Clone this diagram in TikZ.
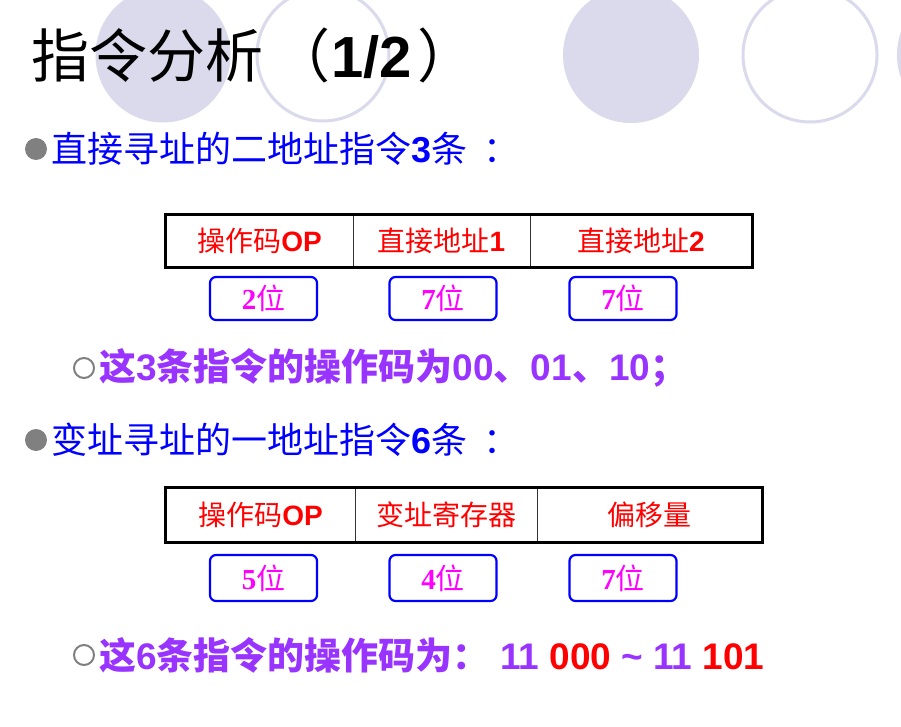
\documentclass[tikz,border=0pt]{standalone}
\usepackage{fontspec}
\setmainfont{Liberation Sans}
\newfontfamily\cjk{Noto Sans CJK SC}
\newfontfamily\tnr{Liberation Serif}
\definecolor{lav}{RGB}{218,218,236}
\definecolor{bulgray}{RGB}{128,128,128}
\definecolor{purp}{RGB}{153,51,255}
\definecolor{pblue}{RGB}{0,0,255}
\definecolor{pred}{RGB}{255,0,0}
\definecolor{pmag}{RGB}{255,0,255}
\tikzset{
  decofill/.style={fill=lav},
  decoring/.style={draw=lav, line width=3pt},
  cell/.style={draw=black!80, line width=1pt, inner sep=0pt, text=pred,
    font=\fontsize{28}{30}\selectfont},
  outerbox/.style={draw=black, line width=2.6pt},
  bitbox/.style={draw=pblue, line width=2.2pt, rounded corners=6pt,
    minimum width=107pt, inner sep=0pt, text=pmag,
    font=\fontsize{29}{31}\selectfont},
  textline/.style={anchor=west, inner sep=0pt, font=\fontsize{36}{40}\selectfont},
  subline/.style={anchor=west, inner sep=0pt, text=purp, font=\fontsize{37}{40}\selectfont\bfseries},
  dotfill/.style={circle, fill=bulgray, minimum size=22pt, inner sep=0pt},
  dotring/.style={circle, draw=bulgray, line width=2pt, minimum size=20pt, inner sep=0pt}
}
\begin{document}
\begin{tikzpicture}[x=1pt,y=-1pt]
\useasboundingbox (0,0) rectangle (901,727);
\fill[white] (0,0) rectangle (901,727);
\begin{scope}
\clip (0,0) rectangle (901,727);
\fill[decofill] (163,55) circle (67.5);
\draw[decoring] (323,55) circle (66);
\fill[decofill] (631,55) circle (68);
\draw[decoring] (810,55) circle (67);
\fill[decofill] (965,55) circle (68);
\end{scope}

% title
\node[anchor=west, inner sep=0pt, font=\fontsize{58}{62}\selectfont] (title) at (31,55)
  {{\cjk 指令分析}\hspace{9pt}{\cjk （}\hspace{1pt}{\bfseries 1/2}\hspace{6pt}{\cjk ）}};

% first bullet
\node[dotfill] (b1) at (36,149) {};
\node[textline, text=pblue] (t1) at (51,149)
  {{\cjk 直接寻址的二地址指令}{\bfseries 3}{\cjk 条}\hspace{16pt}{\cjk ：}};

% first format
\node[cell, minimum width=187pt, minimum height=52pt] (a1) at (259.5,241) {{\cjk 操作码}{\bfseries OP}};
\node[cell, minimum width=177pt, minimum height=52pt] (a2) at (441.5,241) {{\cjk 直接地址}{\bfseries 1}};
\node[cell, minimum width=222pt, minimum height=52pt] (a3) at (641,241) {{\cjk 直接地址}{\bfseries 2}};
\draw[outerbox] (a1.north west) rectangle (a3.south east);

\node[bitbox, minimum height=43pt] (w1) at (263.5,298.5) {{\tnr\bfseries 2}{\cjk 位}};
\node[bitbox, minimum height=43pt] (w2) at (443,298.5) {{\tnr\bfseries 7}{\cjk 位}};
\node[bitbox, minimum height=43pt] (w3) at (623,298.5) {{\tnr\bfseries 7}{\cjk 位}};

% first sub-bullet
\node[dotring] (r1) at (84,368) {};
\node[subline] (t2) at (99,368)
  {{\cjk 这}3{\cjk 条指令的操作码为}00{\cjk 、}01{\cjk 、}10{\cjk ；}};

% second bullet
\node[dotfill] (b2) at (36,440) {};
\node[textline, text=pblue] (t3) at (51,440)
  {{\cjk 变址寻址的一地址指令}{\bfseries 6}{\cjk 条}\hspace{16pt}{\cjk ：}};

% second format
\node[cell, minimum width=189pt, minimum height=54pt] (c1) at (260.5,515) {{\cjk 操作码}{\bfseries OP}};
\node[cell, minimum width=182pt, minimum height=54pt] (c2) at (446,515) {{\cjk 变址寄存器}};
\node[cell, minimum width=225pt, minimum height=54pt] (c3) at (649.5,515) {{\cjk 偏移量}};
\draw[outerbox] (c1.north west) rectangle (c3.south east);

\node[bitbox, minimum height=46pt] (v1) at (263.5,578) {{\tnr\bfseries 5}{\cjk 位}};
\node[bitbox, minimum height=46pt] (v2) at (443,578) {{\tnr\bfseries 4}{\cjk 位}};
\node[bitbox, minimum height=46pt] (v3) at (623,578) {{\tnr\bfseries 7}{\cjk 位}};

% second sub-bullet
\node[dotring] (r2) at (84,655) {};
\node[subline] (t4) at (99,655)
  {{\cjk 这}6{\cjk 条指令的操作码为：} 11 \textcolor{pred}{000} \textasciitilde{} 11 \textcolor{pred}{101}};
\end{tikzpicture}
\end{document}
